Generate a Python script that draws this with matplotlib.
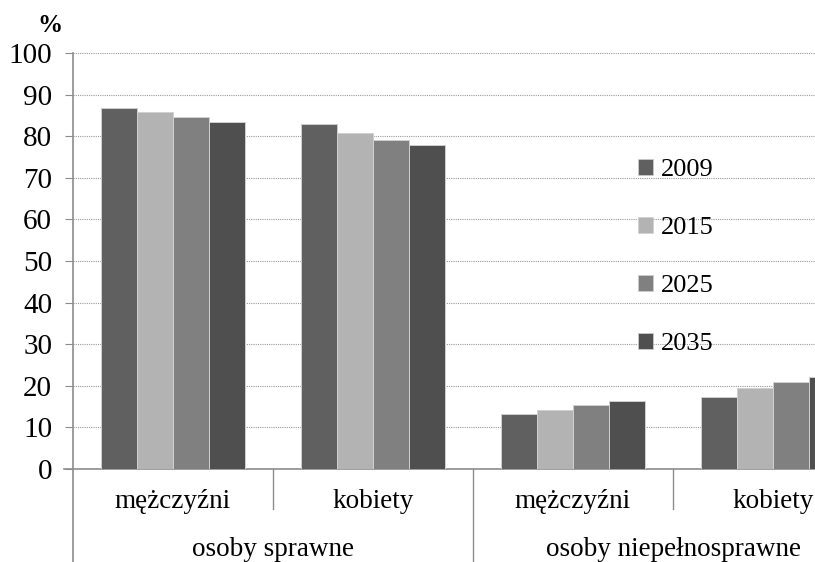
import numpy as np
import matplotlib
matplotlib.use("Agg")
import matplotlib.pyplot as plt
from matplotlib.patches import Patch

plt.rcParams['font.family'] = ['Liberation Serif', 'DejaVu Serif']

# data
subgroups = ["mężczyźni", "kobiety", "mężczyźni", "kobiety"]
groups = ["osoby sprawne", "osoby niepełnosprawne"]
years = ["2009", "2015", "2025", "2035"]
v2009 = [86.8, 82.9, 13.2, 17.2]
v2015 = [85.9, 80.8, 14.2, 19.4]
v2025 = [84.6, 79.1, 15.4, 20.9]
v2035 = [83.4, 77.9, 16.3, 22.2]
colors = ["#606060", "#b3b3b3", "#808080", "#4f4f4f"]

W, H = 815, 562
fig = plt.figure(figsize=(W / 100, H / 100), dpi=100)
# plot area: x 73..873 px (right part is cut off), y 53..469 px
ax = fig.add_axes([73 / W, (H - 469) / H, 800 / W, 416 / H])

x = np.arange(len(subgroups))
bw = 0.18
for i, vals in enumerate([v2009, v2015, v2025, v2035]):
    ax.bar(x + (i - 1.5) * bw, vals, bw, color=colors[i],
           edgecolor="#d0d0d0", linewidth=0.7, zorder=3)

ax.set_xlim(-0.5, 3.5)
ax.set_ylim(0, 100)
ax.set_yticks(range(0, 101, 10))
ax.tick_params(axis='y', labelsize=21, length=6, color="#8c8c8c", pad=9)
ax.tick_params(axis='x', length=0, labelbottom=False)
ax.yaxis.grid(True, linestyle=(0, (1, 1)), color="#9a9a9a", linewidth=0.8)
ax.set_axisbelow(True)
for s in ["top", "right"]:
    ax.spines[s].set_visible(False)
for s in ["left", "bottom"]:
    ax.spines[s].set_color("#8c8c8c")
    ax.spines[s].set_linewidth(1.2)

trans = ax.get_xaxis_transform()
lo = -(H - 469) / 416
# y axis continues down to the bottom edge
ax.plot([-0.5, -0.5], [0, lo], transform=trans, color="#8c8c8c", lw=1.2, clip_on=False)
# x axis line a bit to the left of the y axis
ax.plot([-0.5 - 9 / 200, -0.5], [0, 0], transform=trans, color="#8c8c8c", lw=1.2, clip_on=False)
for xs in [0.5, 2.5]:
    ax.plot([xs, xs], [0, -40 / 416], transform=trans, color="#8c8c8c", lw=1, clip_on=False)
ax.plot([1.5, 1.5], [0, lo], transform=trans, color="#8c8c8c", lw=1, clip_on=False)

for xi, lab in zip(x, subgroups):
    ax.text(xi, -32 / 416, lab, transform=trans, ha="center", va="center", fontsize=19.5)
for gi, lab in enumerate(groups):
    ax.text(0.5 + 2 * gi, -80 / 416, lab, transform=trans, ha="center", va="center", fontsize=19.5)

fig.text(50 / W, 1 - 25 / H, "%", ha="center", va="center", fontsize=18, fontweight="bold")

handles = [Patch(facecolor=c, edgecolor="#d0d0d0", linewidth=0.5) for c in colors]
fig.legend(handles, years, loc="upper left", bbox_to_anchor=(625 / W, 1 - 146 / H),
           frameon=False, fontsize=19, handlelength=0.55, handleheight=0.55,
           handletextpad=0.3, labelspacing=1.35, borderpad=0)

fig.savefig("out.png", dpi=100)
